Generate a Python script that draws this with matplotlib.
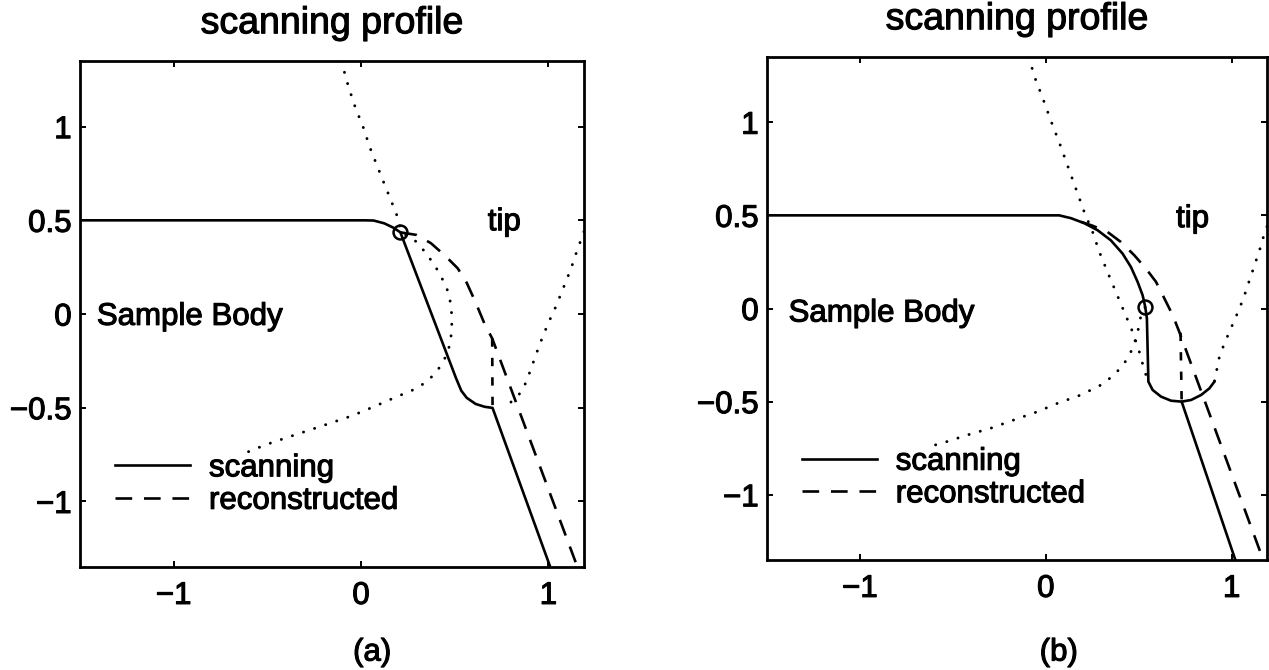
import matplotlib.pyplot as plt
import matplotlib.patheffects as pe
from matplotlib.text import Text
from matplotlib.transforms import blended_transform_factory

# axis setup
x_limits = [-1.5, 1.19]
y_limits = [-1.35, 1.35]
x_ticks = [-1, 0, 1]
x_tick_labels = ['\u22121', '0', '1']
y_ticks = [-1, -0.5, 0, 0.5, 1]
y_tick_labels = ['\u22121', '\u22120.5', '0', '0.5', '1']
title_text = 'scanning profile'
legend_labels = ['scanning', 'reconstructed']

# ---- panel (a) ----
scan_a_x = [-1.5, 0.02, 0.067, 0.124, 0.172, 0.21, 0.507, 0.535, 0.564, 0.612, 0.66, 0.702, 1.01]
scan_a_y = [0.5, 0.5, 0.499, 0.484, 0.461, 0.436, -0.342, -0.409, -0.447, -0.48, -0.495, -0.501, -1.35]

recon_a_x = [0.21, 0.296, 0.373, 0.449, 0.516, 0.564, 0.612, 0.66, 0.70, 1.155]
recon_a_y = [0.436, 0.422, 0.378, 0.311, 0.244, 0.167, 0.061, -0.054, -0.13, -1.35]
drop_a_x = [0.70, 0.702]
drop_a_y = [-0.13, -0.50]

tip_a_x = [-0.105, -0.067, -0.029, 0.01, 0.048, 0.086, 0.124, 0.163, 0.192, 0.215,
           0.29, 0.343, 0.393, 0.428, 0.46, 0.478, 0.485, 0.484, 0.476, 0.458, 0.43,
           0.393, 0.345, 0.285, 0.182, 0.067, -0.048, -0.163, -0.277, -0.392, -0.507, -0.602]
tip_a_y = [1.35, 1.213, 1.098, 1.002, 0.887, 0.791, 0.695, 0.599, 0.525, 0.437,
           0.39, 0.33, 0.26, 0.2, 0.13, 0.06, -0.014, -0.086, -0.155, -0.215, -0.27,
           -0.32, -0.365, -0.402, -0.445, -0.495, -0.543, -0.582, -0.620, -0.658, -0.697, -0.735]
tip_a2_x = [1.19, 1.15, 1.12, 1.08, 1.04, 1.0, 0.97, 0.94, 0.915, 0.89, 0.865, 0.835, 0.80, 0.765]
tip_a2_y = [0.44, 0.33, 0.24, 0.14, 0.04, -0.047, -0.12, -0.2, -0.27, -0.34, -0.4, -0.44, -0.47, -0.485]

circle_a = (0.21, 0.436)
tip_label_a = (0.765, 0.49)
body_label_a = (-1.41, -0.015)
letter_a_x = 0.06

# ---- panel (b) ----
scan_b_x = [-1.5, 0.072, 0.135, 0.207, 0.279, 0.35, 0.413, 0.458, 0.494, 0.521, 0.535,
            0.544, 0.552, 0.575, 0.62, 0.674, 0.731, 1.02]
scan_b_y = [0.5, 0.5, 0.485, 0.458, 0.42, 0.366, 0.295, 0.223, 0.143, 0.071, 0.009,
            -0.054, -0.393, -0.4375, -0.473, -0.495, -0.5, -1.35]
bowl_b_x = [0.731, 0.782, 0.836, 0.88, 0.907]
bowl_b_y = [-0.5, -0.491, -0.464, -0.429, -0.393]

recon_b_x = [0.19, 0.25, 0.332, 0.404, 0.476, 0.539, 0.593, 0.638, 0.683, 0.72, 1.17]
recon_b_y = [0.465, 0.445, 0.411, 0.357, 0.286, 0.214, 0.143, 0.054, -0.036, -0.13, -1.35]
drop_b_x = [0.725, 0.731]
drop_b_y = [-0.13, -0.50]

tip_b_x = [-0.09, -0.063, -0.018, 0.027, 0.072, 0.117, 0.162, 0.207, 0.252, 0.288,
           0.332, 0.377, 0.422, 0.467, 0.503, 0.530, 0.545]
tip_b_y = [1.35, 1.25, 1.134, 1.009, 0.893, 0.768, 0.643, 0.518, 0.411, 0.304,
           0.196, 0.089, -0.018, -0.125, -0.232, -0.33, -0.375]
tip_b2_x = [-0.593, -0.53, -0.422, -0.297, -0.171, -0.045, 0.063, 0.189, 0.296, 0.368,
            0.422, 0.458, 0.485, 0.503, 0.512, 0.535]
tip_b2_y = [-0.732, -0.714, -0.679, -0.643, -0.598, -0.554, -0.509, -0.464, -0.411, -0.357,
            -0.295, -0.232, -0.161, -0.089, -0.036, 0.009]
tip_b3_x = [1.19, 1.168, 1.15, 1.132, 1.09, 1.069, 1.042, 1.015, 0.988, 0.961, 0.934, 0.907]
tip_b3_y = [0.44, 0.375, 0.3125, 0.259, 0.134, 0.071, 0.0, -0.0625, -0.125, -0.1875, -0.259, -0.393]

circle_b = (0.535, 0.009)
tip_label_b = (0.79, 0.48)
body_label_b = (-1.384, -0.027)
letter_b_x = 0.07

plt.rcParams['font.family'] = ['Liberation Sans', 'DejaVu Sans']
plt.rcParams['font.size'] = 22.5
plt.rcParams['lines.scale_dashes'] = False

LW = 1.9
DASH = (0, (12, 8.5))
DOT = (0, (0.1, 8.3))

fig = plt.figure(figsize=(12.69, 6.70), dpi=100)
ax_a = fig.add_axes([0.0630, 0.1537, 0.3972, 0.7552])
ax_b = fig.add_axes([0.6044, 0.1642, 0.3940, 0.7507])


def dotted(ax, xs, ys):
    ax.plot(xs, ys, color='k', lw=2.1, linestyle=DOT, dash_capstyle='round')


def setup(ax, letter, letter_x):
    ax.set_xlim(x_limits)
    ax.set_ylim(y_limits)
    ax.set_xticks(x_ticks)
    ax.set_xticklabels(x_tick_labels)
    ax.set_yticks(y_ticks)
    ax.set_yticklabels(y_tick_labels)
    ax.tick_params(direction='in', top=True, right=True, length=4, width=1.4)
    ax.tick_params(axis='x', pad=10)
    ax.tick_params(axis='y', pad=6)
    for s in ax.spines.values():
        s.set_linewidth(2.0)
    ax.set_title(title_text, pad=20)
    tr = blended_transform_factory(ax.transData, fig.transFigure)
    ax.text(letter_x, 0.026, letter, transform=tr, ha='center', va='center')
    ax.legend(loc='center left', bbox_to_anchor=(0.07, 0.163), frameon=False,
              borderpad=0, borderaxespad=0, handlelength=2.4, handletextpad=0.6,
              labelspacing=0.08)


# panel (a)
dotted(ax_a, tip_a_x, tip_a_y)
dotted(ax_a, tip_a2_x, tip_a2_y)
ax_a.plot(scan_a_x, scan_a_y, 'k-', lw=LW, label=legend_labels[0])
ax_a.plot(recon_a_x, recon_a_y, color='k', lw=LW, linestyle=DASH, label=legend_labels[1])
ax_a.plot(drop_a_x, drop_a_y, color='k', lw=LW, linestyle=(0, (6, 8)))
ax_a.plot(*circle_a, 'o', ms=10, mfc='none', mec='k', mew=1.8)
ax_a.text(*tip_label_a, 'tip', ha='center', va='center')
ax_a.text(*body_label_a, 'Sample Body', ha='left', va='center')
setup(ax_a, '(a)', letter_a_x)

# panel (b)
dotted(ax_b, tip_b_x, tip_b_y)
dotted(ax_b, tip_b2_x, tip_b2_y)
dotted(ax_b, tip_b3_x, tip_b3_y)
ax_b.plot(scan_b_x, scan_b_y, 'k-', lw=LW, label=legend_labels[0])
ax_b.plot(bowl_b_x, bowl_b_y, 'k-', lw=LW)
ax_b.plot(recon_b_x, recon_b_y, color='k', lw=LW, linestyle=DASH, label=legend_labels[1])
ax_b.plot(drop_b_x, drop_b_y, color='k', lw=LW, linestyle=(0, (6, 8)))
ax_b.plot(*circle_b, 'o', ms=10, mfc='none', mec='k', mew=1.8)
ax_b.text(*tip_label_b, 'tip', ha='center', va='center')
ax_b.text(*body_label_b, 'Sample Body', ha='left', va='center')
setup(ax_b, '(b)', letter_b_x)

# scanned print looks heavier, thicken the glyphs a little
for t in fig.findobj(Text):
    t.set_path_effects([pe.withStroke(linewidth=0.8, foreground='k')])

fig.savefig('out.png', dpi=100)
